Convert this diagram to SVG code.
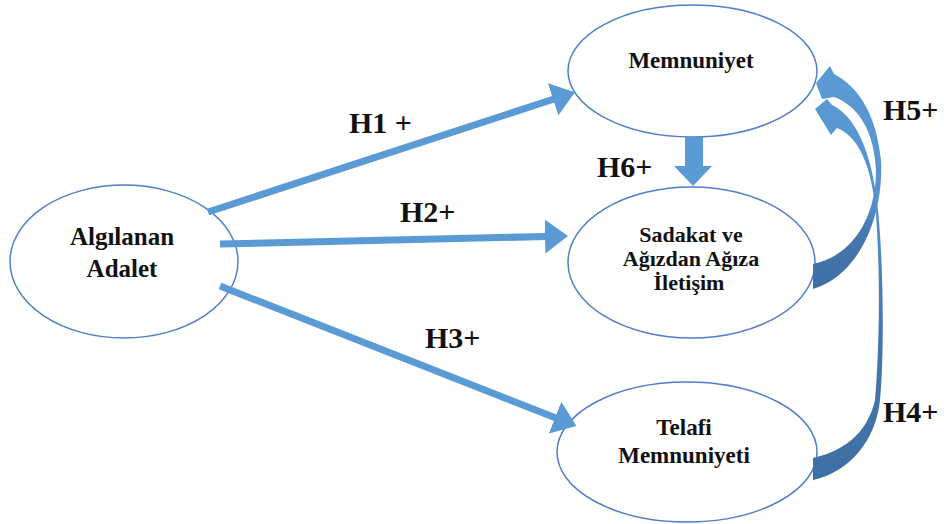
<svg xmlns="http://www.w3.org/2000/svg" width="944" height="524" viewBox="0 0 944 524">
<style>
.node ellipse{fill:#fff;stroke:#4F7FCB;stroke-width:1.5}
.nt{font-family:"Liberation Serif","Times New Roman",serif;font-weight:bold;fill:#111;text-anchor:middle}
.lbl{font-family:"Liberation Serif","Times New Roman",serif;font-weight:bold;fill:#111;font-size:30px}
.ln{stroke:#5B9BD5;stroke-width:7;fill:none}
</style>
<defs>
<marker id="ah" markerUnits="userSpaceOnUse" viewBox="0 0 24 34" refX="1" refY="17" markerWidth="24" markerHeight="34" orient="auto">
<path d="M0,0 L23,17 L0,34 Z" fill="#5B9BD5"/>
</marker>
<linearGradient id="g5" gradientUnits="userSpaceOnUse" x1="0" y1="60" x2="0" y2="290">
<stop offset="0" stop-color="#5B9BD5"/>
<stop offset="0.6" stop-color="#5892CE"/>
<stop offset="0.75" stop-color="#4677AE"/>
<stop offset="1" stop-color="#3E6FA4"/>
</linearGradient>
<linearGradient id="g4" gradientUnits="userSpaceOnUse" x1="0" y1="90" x2="0" y2="482">
<stop offset="0" stop-color="#5B9BD5"/>
<stop offset="0.3" stop-color="#5590CC"/>
<stop offset="0.6" stop-color="#4678B0"/>
<stop offset="1" stop-color="#3E6FA4"/>
</linearGradient>
</defs>
<rect width="944" height="524" fill="#fff"/>
<g id="node-algilanan" class="node">
<ellipse cx="124" cy="261.5" rx="114" ry="76.5"/>
<text class="nt" x="122" y="245" font-size="25">Algılanan</text>
<text class="nt" x="122" y="277" font-size="25">Adalet</text>
</g>
<g id="node-memnuniyet" class="node">
<ellipse cx="692.5" cy="71" rx="124.5" ry="66"/>
<text class="nt" x="691" y="68" font-size="23">Memnuniyet</text>
</g>
<g id="node-sadakat" class="node">
<ellipse cx="691.5" cy="262.5" rx="123.5" ry="75.5"/>
<text class="nt" x="691" y="242" font-size="22">Sadakat ve</text>
<text class="nt" x="691" y="266" font-size="22">Ağızdan Ağıza</text>
<text class="nt" x="689" y="290" font-size="22">İletişim</text>
</g>
<g id="node-telafi" class="node">
<ellipse cx="687" cy="452" rx="130" ry="70"/>
<text class="nt" x="684" y="435" font-size="23">Telafi</text>
<text class="nt" x="684" y="463" font-size="23">Memnuniyeti</text>
</g>
<g id="connectors">
<line class="ln" x1="208" y1="212" x2="554" y2="99" marker-end="url(#ah)"/>
<line class="ln" x1="220" y1="244" x2="546" y2="236.5" marker-end="url(#ah)"/>
<line class="ln" x1="220" y1="286" x2="556" y2="418" marker-end="url(#ah)"/>
<polygon points="685,137 703,137 703,166 712,166 693,186 674,166 685,166" fill="#5B9BD5"/>
<path d="M816,83 L830,66 L834,74 C860,88 876,115 881,160 C884,215 860,275 813,289 L813,264 C855,255 876,215 876,170 C874,130 858,106 834,97 L822,99 Z" fill="url(#g5)"/>
<path d="M815,109 L827,99 L832,105 C855,116 872,150 878,210 C884,270 884,360 880,400 C876,440 850,472 813,480 L813,458 C848,450 868,430 875,400 C880,340 880,270 876,215 C872,165 858,136 837,128 L831,135 Z" fill="url(#g4)"/>
</g>
<g id="labels">
<text class="lbl" x="349" y="133">H1 +</text>
<text class="lbl" x="400" y="222">H2+</text>
<text class="lbl" x="425" y="348">H3+</text>
<text class="lbl" x="883" y="120">H5+</text>
<text class="lbl" x="597" y="177">H6+</text>
<text class="lbl" x="883" y="422">H4+</text>
</g>
</svg>
